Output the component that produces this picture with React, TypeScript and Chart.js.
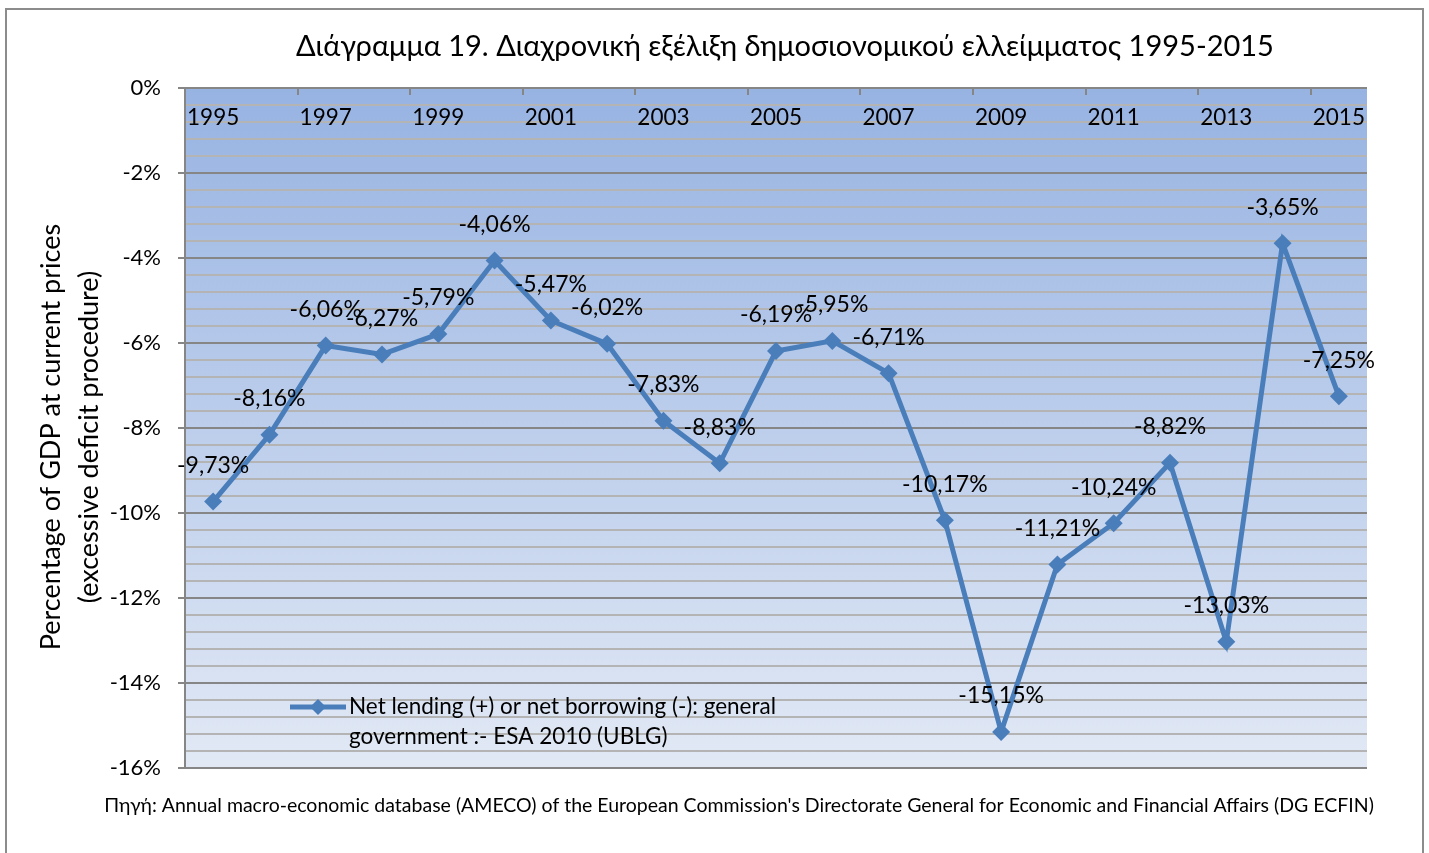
import React, { useEffect, useRef } from 'react';
import { Chart, registerables } from 'chart.js';

Chart.register(...registerables);

const years = ['1995', '1996', '1997', '1998', '1999', '2000', '2001', '2002', '2003', '2004', '2005', '2006', '2007', '2008', '2009', '2010', '2011', '2012', '2013', '2014', '2015'];
const deficit = [-9.73, -8.16, -6.06, -6.27, -5.79, -4.06, -5.47, -6.02, -7.83, -8.83, -6.19, -5.95, -6.71, -10.17, -15.15, -11.21, -10.24, -8.82, -13.03, -3.65, -7.25];
const chartTitle = 'Διάγραμμα 19. Διαχρονική εξέλιξη δημοσιονομικού ελλείμματος 1995-2015';
const yTitleLines = ['Percentage of GDP at current prices', '(excessive deficit procedure)'];
const seriesLines = ['Net lending (+) or net borrowing (-): general', 'government :- ESA 2010 (UBLG)'];
const sourceText = "Πηγή: Annual macro-economic database (AMECO) of the European Commission's Directorate General for Economic and Financial Affairs (DG ECFIN)";

const FONT = "Lato, 'Noto Sans', sans-serif";
const LINE_COLOR = '#4a7ebb';
const MAJOR_GRID = '#868686';
const MINOR_GRID = '#b4b4b4';

const isMajor = (v: number) => Math.abs(Math.round(v * 10)) % 20 === 0;
const fmt = (v: number) => v.toFixed(2).replace('.', ',') + '%';

function drawDiamond(ctx: CanvasRenderingContext2D, x: number, y: number, r: number) {
  ctx.beginPath();
  ctx.moveTo(x, y - r);
  ctx.lineTo(x + r, y);
  ctx.lineTo(x, y + r);
  ctx.lineTo(x - r, y);
  ctx.closePath();
  ctx.fill();
}

const decorPlugin = {
  id: 'decor',
  beforeDraw(chart: any) {
    const { ctx, chartArea: a, width, height } = chart;
    ctx.save();
    ctx.fillStyle = '#ffffff';
    ctx.fillRect(0, 0, width, height);
    ctx.strokeStyle = '#8c8c8c';
    ctx.lineWidth = 2;
    ctx.strokeRect(6, 9, 1417, height + 20);
    const g = ctx.createLinearGradient(0, a.top, 0, a.bottom);
    g.addColorStop(0, '#97b3e2');
    g.addColorStop(1, '#e2e9f5');
    ctx.fillStyle = g;
    ctx.fillRect(a.left, a.top, a.right - a.left, a.bottom - a.top);
    ctx.restore();
  },
  afterDraw(chart: any) {
    const { ctx, chartArea: a } = chart;
    const xs = chart.scales.x;
    const ys = chart.scales.y;
    ctx.save();
    // top category tick marks
    ctx.strokeStyle = MAJOR_GRID;
    ctx.lineWidth = 2;
    const n = years.length;
    const step = (a.right - a.left) / n;
    for (let k = 2; k < n; k += 2) {
      const x = Math.round(a.left + step * k);
      ctx.beginPath();
      ctx.moveTo(x, a.top);
      ctx.lineTo(x, a.top + 7);
      ctx.stroke();
    }
    // category labels under the 0 line
    ctx.fillStyle = '#000';
    ctx.font = `22.5px ${FONT}`;
    ctx.textAlign = 'center';
    ctx.textBaseline = 'middle';
    years.forEach((yr, i) => {
      if (i % 2 === 0) ctx.fillText(yr, xs.getPixelForValue(i), a.top + 30);
    });
    // data labels
    ctx.font = `23px ${FONT}`;
    deficit.forEach((v, i) => {
      ctx.fillText(fmt(v), xs.getPixelForValue(i), ys.getPixelForValue(v) - 36);
    });
    // title
    ctx.font = `29px ${FONT}`;
    ctx.fillText(chartTitle, 785, 47);
    // y title
    ctx.save();
    ctx.translate(51, 437);
    ctx.rotate(-Math.PI / 2);
    ctx.font = `27px ${FONT}`;
    ctx.fillText(yTitleLines[0], 0, 0);
    ctx.fillText(yTitleLines[1], 0, 38);
    ctx.restore();
    // legend
    ctx.strokeStyle = LINE_COLOR;
    ctx.fillStyle = LINE_COLOR;
    ctx.lineWidth = 5;
    ctx.beginPath();
    ctx.moveTo(290, 707);
    ctx.lineTo(346, 707);
    ctx.stroke();
    drawDiamond(ctx, 318, 707, 8);
    ctx.fillStyle = '#000';
    ctx.font = `22.5px ${FONT}`;
    ctx.textAlign = 'left';
    ctx.fillText(seriesLines[0], 349, 707);
    ctx.fillText(seriesLines[1], 349, 737);
    // source
    ctx.font = `19.5px ${FONT}`;
    ctx.textAlign = 'center';
    ctx.fillText(sourceText, 739, 806);
    ctx.restore();
  },
};

export default function App() {
  const ref = useRef<HTMLCanvasElement | null>(null);
  useEffect(() => {
    if (!ref.current) return;
    const chart = new Chart(ref.current, {
      type: 'line',
      data: {
        labels: years,
        datasets: [
          {
            label: seriesLines.join(' '),
            data: deficit,
            borderColor: LINE_COLOR,
            backgroundColor: LINE_COLOR,
            borderWidth: 5,
            pointStyle: 'rectRot',
            pointRadius: 9,
            pointBorderWidth: 0,
            tension: 0,
          },
        ],
      },
      options: {
        responsive: false,
        animation: false,
        layout: { padding: { left: 0, top: 88, right: 62, bottom: 85 } },
        plugins: {
          legend: { display: false },
          tooltip: { enabled: false },
          title: { display: false },
        },
        scales: {
          x: { display: false, offset: true },
          y: {
            min: -16,
            max: 0,
            afterFit: (s: any) => {
              s.width = 185;
            },
            ticks: {
              stepSize: 0.4,
              autoSkip: false,
              maxTicksLimit: 100,
              padding: 17,
              color: '#000',
              font: { family: FONT, size: 22 },
              callback: (v: any) => (isMajor(Number(v)) ? `${Math.round(Number(v))}%` : ''),
            },
            grid: {
              color: (c: any) => (isMajor(c.tick.value) ? MAJOR_GRID : MINOR_GRID),
              lineWidth: 2,
              tickLength: 7,
              tickColor: (c: any) => (isMajor(c.tick.value) ? MAJOR_GRID : 'rgba(0,0,0,0)'),
            },
            border: { display: true, color: MAJOR_GRID, width: 2 },
          },
        },
      },
      plugins: [decorPlugin],
    } as any);
    return () => chart.destroy();
  }, []);
  return (
    <div style={{ position: 'fixed', left: 0, top: 0, width: 1429, height: 853 }}>
      <canvas ref={ref} width={1429} height={853} style={{ display: 'block' }} />
    </div>
  );
}
